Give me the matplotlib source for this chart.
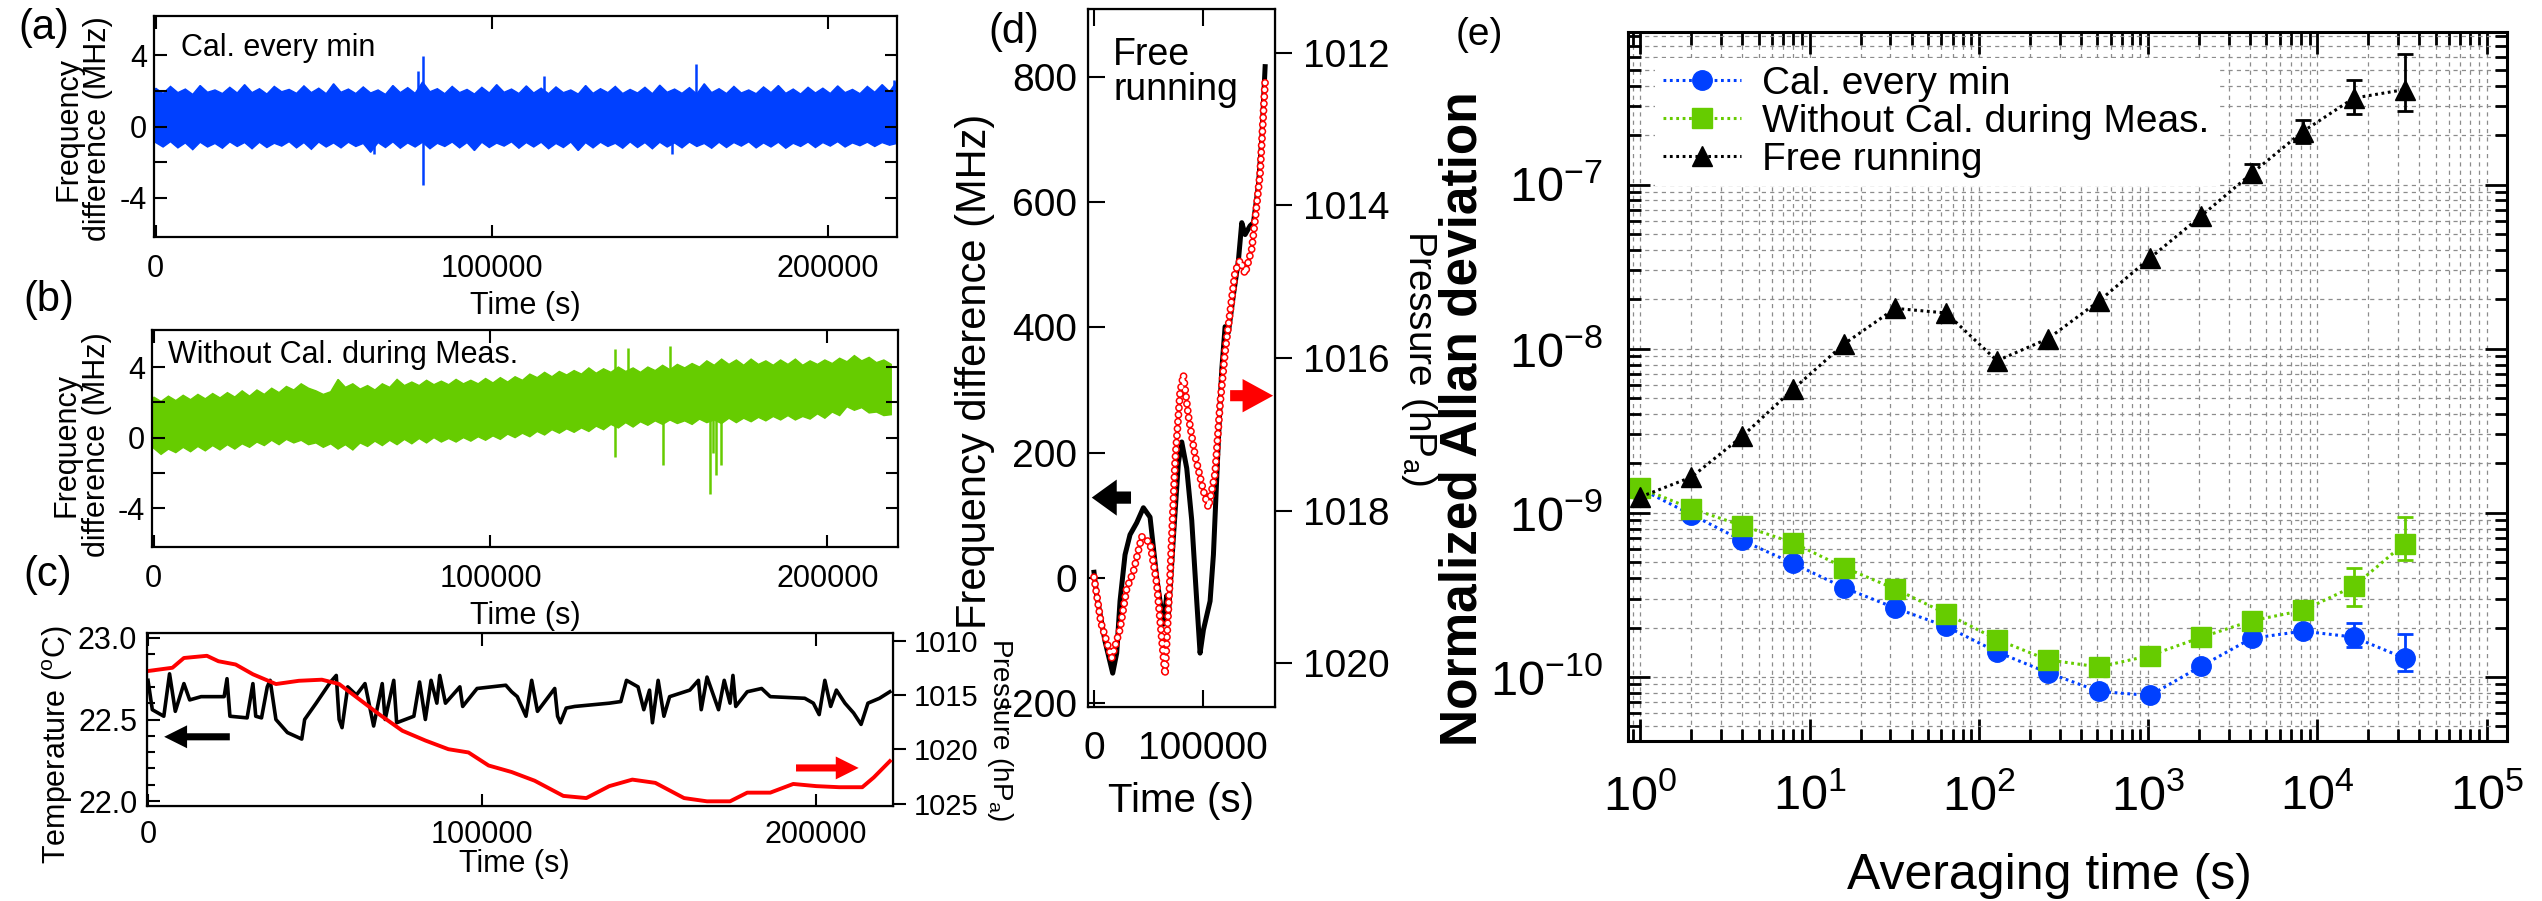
import numpy as np
import matplotlib
matplotlib.use('Agg')
import matplotlib.pyplot as plt
from matplotlib.ticker import FixedLocator, NullFormatter, LogLocator

plt.rcParams['font.family'] = ['Liberation Sans', 'DejaVu Sans']
plt.rcParams['mathtext.fontset'] = 'custom'
plt.rcParams['mathtext.rm'] = 'Liberation Sans'
plt.rcParams['mathtext.it'] = 'Liberation Sans:italic'
plt.rcParams['mathtext.bf'] = 'Liberation Sans:bold'
plt.rcParams['lines.scale_dashes'] = False
plt.rcParams['axes.unicode_minus'] = False

BLUE = '#0040ff'
GREEN = '#66cc00'
RED = '#ff0000'

# ---------------- data: panel (a) Cal. every min (band envelope) ----------------
a_upper = [2.15, 1.85, 2.25, 1.90, 2.10, 1.80, 2.30, 1.92, 2.05, 1.85,
           2.20, 1.88, 2.35, 1.90, 2.12, 1.82, 2.25, 1.95, 2.08, 1.86,
           2.28, 1.90, 2.15, 1.84, 2.40, 1.92, 2.10, 1.85, 2.22, 1.88,
           2.05, 1.80, 2.30, 1.90, 2.18, 1.86, 2.50, 1.95, 2.12, 1.84,
           2.25, 1.90, 2.08, 1.82, 2.20, 1.88, 2.35, 1.92, 2.10, 1.85,
           2.28, 1.88, 2.15, 1.84, 2.22, 1.90, 2.05, 1.82, 2.30, 1.86,
           2.12, 1.90, 2.25, 1.85, 2.08, 1.88, 2.20, 1.84, 2.32, 1.92,
           2.10, 1.86, 2.18, 1.82, 2.40, 1.90, 2.12, 1.85, 2.25, 1.88,
           2.05, 1.84, 2.22, 1.90, 2.30, 1.86, 2.10, 1.82, 2.20, 1.88,
           2.15, 1.85, 2.28, 1.90, 2.08, 1.84, 2.25, 1.92, 2.35, 1.95, 2.55]
a_lower = [-0.90, -1.15, -0.85, -1.20, -0.92, -1.30, -0.88, -1.15, -0.95, -1.22,
           -0.86, -1.12, -0.90, -1.25, -0.88, -1.18, -0.94, -1.10, -0.85, -1.20,
           -0.90, -1.28, -0.87, -1.15, -0.92, -1.20, -0.88, -1.12, -0.95, -1.45,
           -0.90, -1.18, -0.86, -1.22, -0.92, -1.15, -0.88, -1.25, -0.94, -1.12,
           -0.87, -1.20, -0.90, -1.35, -0.88, -1.18, -0.93, -1.10, -0.86, -1.22,
           -0.90, -1.15, -0.88, -1.25, -0.95, -1.18, -0.87, -1.35, -0.90, -1.20,
           -0.88, -1.12, -0.94, -1.22, -0.86, -1.18, -0.90, -1.25, -0.88, -1.15,
           -0.92, -1.20, -0.87, -1.12, -0.95, -1.22, -0.88, -1.18, -0.90, -1.10,
           -0.86, -1.20, -0.92, -1.15, -0.88, -1.22, -0.94, -1.12, -0.87, -1.18,
           -0.90, -1.10, -0.85, -1.15, -0.92, -1.08, -0.88, -1.12, -0.90, -1.05, -0.95]
a_spike_t = [77900, 79600, 79600, 115500, 160800, 153600, 65000, 219600]
a_spike_v = [3.13, 3.97, -3.26, 2.85, 3.50, -1.53, -1.53, 2.63]

# ---------------- data: panel (b) Without Cal. during Meas. ----------------
b_upper = [2.30, 2.05, 2.35, 2.10, 2.40, 2.15, 2.45, 2.20, 2.50, 2.25,
           2.55, 2.30, 2.65, 2.35, 2.70, 2.45, 2.80, 2.55, 2.90, 2.70,
           3.05, 2.80, 2.65, 2.45, 2.60, 3.30, 2.85, 3.05, 2.75, 2.95,
           2.70, 3.05, 2.85, 3.30, 2.95, 3.15, 2.95, 3.25, 3.00, 3.20,
           3.00, 3.30, 3.05, 3.25, 3.05, 3.35, 3.10, 3.40, 3.15, 3.45,
           3.25, 3.60, 3.40, 3.70, 3.45, 3.75, 3.55, 3.80, 3.60, 3.95,
           3.65, 3.90, 3.70, 4.00, 3.75, 3.95, 3.70, 4.00, 3.80, 4.10,
           3.85, 4.15, 3.95, 4.20, 4.00, 4.35, 4.10, 4.45, 4.15, 4.40,
           4.10, 4.45, 4.15, 4.35, 4.10, 4.40, 4.15, 4.45, 4.10, 4.35,
           4.15, 4.40, 4.20, 4.50, 4.30, 4.65, 4.35, 4.55, 4.25, 4.40, 4.15]
b_lower = [-0.60, -0.95, -0.65, -0.85, -0.55, -0.80, -0.50, -0.75, -0.45, -0.70,
           -0.40, -0.65, -0.35, -0.55, -0.25, -0.45, -0.15, -0.40, -0.10, -0.30,
           -0.15, -0.40, -0.30, -0.55, -0.35, -0.65, -0.40, -0.70, -0.30, -0.50,
           -0.20, -0.45, -0.15, -0.40, -0.10, -0.35, -0.05, -0.30, 0.00, -0.25,
           -0.05, -0.25, 0.00, -0.20, 0.05, -0.15, 0.10, -0.10, 0.20, 0.00,
           0.25, 0.05, 0.35, 0.15, 0.45, 0.25, 0.50, 0.30, 0.55, 0.35,
           0.65, 0.45, 0.75, 0.55, 0.85, 0.60, 0.90, 0.70, 0.95, 0.75,
           1.00, 0.80, 0.95, 0.75, 1.05, 0.85, 1.00, 0.80, 1.10, 0.85,
           1.10, 0.90, 1.15, 0.95, 1.20, 1.00, 1.25, 1.00, 1.20, 1.05,
           1.35, 1.10, 1.45, 1.25, 1.75, 1.55, 1.70, 1.40, 1.45, 1.25, 1.30]
b_spike_t = [136900, 136900, 140700, 151100, 153200, 165300, 166200, 167100, 168300]
b_spike_v = [5.00, -1.11, 5.09, -1.58, 5.22, -3.17, -0.90, -2.14, -1.58]

# ---------------- data: panel (c) temperature and pressure ----------------
c_temp_t = [0, 1290, 4730, 6450, 8170, 10750, 12480, 15900, 22790, 23650, 24520, 29670, 31400, 32250,
            33980, 35700, 36560, 38290, 41730, 46020, 46890, 50330, 54640, 56350, 57210, 58080, 59790,
            62370, 64950, 67540, 70110, 70980, 73560, 74430, 79580, 81290, 83020, 84730, 86460, 87330,
            89040, 93350, 94190, 98500, 107100, 108830, 110540, 113140, 114850, 116580, 121740, 122600,
            123450, 125180, 127750, 138080, 141530, 143230, 146680, 148410, 150120, 150990, 152700,
            154430, 156140, 162180, 164760, 165600, 167330, 170780, 172480, 174220, 175090, 175930,
            179370, 183680, 186260, 196590, 199160, 200900, 202600, 204340, 206050, 208620, 211200,
            213440, 215500, 218950, 222060]
c_temp_v = [22.74, 22.56, 22.52, 22.78, 22.55, 22.72, 22.62, 22.64, 22.64, 22.75, 22.52, 22.51, 22.72,
            22.52, 22.51, 22.70, 22.74, 22.50, 22.42, 22.38, 22.50, 22.60, 22.73, 22.77, 22.50, 22.45,
            22.70, 22.65, 22.72, 22.46, 22.72, 22.50, 22.74, 22.48, 22.52, 22.73, 22.50, 22.74, 22.60,
            22.77, 22.60, 22.70, 22.58, 22.69, 22.71, 22.67, 22.64, 22.52, 22.74, 22.55, 22.69, 22.52,
            22.48, 22.57, 22.58, 22.60, 22.61, 22.74, 22.70, 22.56, 22.68, 22.48, 22.74, 22.52, 22.64,
            22.68, 22.74, 22.56, 22.76, 22.56, 22.74, 22.60, 22.77, 22.58, 22.67, 22.69, 22.64, 22.63,
            22.60, 22.53, 22.74, 22.58, 22.68, 22.60, 22.54, 22.47, 22.60, 22.63, 22.67]
c_pres_t = [0, 7310, 10750, 17630, 21080, 26230, 31400, 38290, 45170, 52040, 57210, 62370, 69250, 76140,
            83020, 89910, 95930, 101950, 108830, 115720, 124310, 131200, 138080, 144970, 151860, 160450,
            167330, 174220, 179370, 186260, 193140, 200030, 206920, 213800, 217240, 222060]
c_pres_v = [1012.8, 1012.5, 1011.6, 1011.4, 1011.9, 1012.2, 1013.1, 1014.0, 1013.7, 1013.6, 1014.0,
            1015.2, 1016.8, 1018.3, 1019.2, 1020.0, 1020.3, 1021.5, 1022.1, 1022.9, 1024.3, 1024.5,
            1023.4, 1022.8, 1023.1, 1024.5, 1024.8, 1024.8, 1024.0, 1024.0, 1023.2, 1023.4, 1023.5,
            1023.5, 1022.6, 1021.1]

# ---------------- data: panel (d) free running ----------------
d_freq_t = [0, 2440, 10065, 17080, 20740, 23790, 28365, 32940, 39040, 45140, 51240, 57340, 63440, 66490,
            68010, 72590, 77160, 80210, 84790, 89360, 93940, 96990, 100040, 106140, 109190, 113760,
            116810, 119870, 122910, 127490, 132060, 135110, 138170, 142740, 145790, 150360, 153410, 156470]
d_freq_v = [9, -28, -101, -152, -120, -37, 37, 69, 88, 112, 97, 0, -74, -28, -60, 65, 184, 217, 175, 92,
            -37, -120, -83, -37, 37, 221, 332, 401, 392, 452, 507, 567, 548, 562, 567, 627, 701, 816]
d_pres_t = [0, 6400, 16160, 23790, 29890, 35990, 43620, 51240, 57340, 64970, 69540, 74120, 78690, 81740,
            86310, 92420, 100040, 104610, 110720, 115290, 119870, 124440, 129020, 133590, 138170, 144260,
            147320, 151890, 156470]
d_pres_v = [1018.87, 1019.47, 1019.93, 1019.55, 1019.02, 1018.80, 1018.34, 1018.42, 1018.95, 1020.15,
            1018.87, 1017.36, 1016.45, 1016.22, 1016.76, 1017.28, 1017.74, 1017.96, 1017.51, 1016.60,
            1015.92, 1015.40, 1014.87, 1014.72, 1014.90, 1014.57, 1014.19, 1013.58, 1012.38]

# ---------------- data: panel (e) Allan deviation ----------------
tau = [1, 2, 4, 8, 16, 32, 64, 128, 256, 512, 1024, 2048, 4096, 8192, 16384, 32768]
adev_cal = [1.40e-9, 9.75e-10, 6.78e-10, 4.91e-10, 3.49e-10, 2.63e-10, 2.03e-10, 1.42e-10, 1.06e-10,
            8.16e-11, 7.71e-11, 1.16e-10, 1.72e-10, 1.90e-10, 1.75e-10, 1.30e-10]
adev_nocal = [1.42e-9, 1.06e-9, 8.35e-10, 6.56e-10, 4.64e-10, 3.44e-10, 2.43e-10, 1.69e-10, 1.27e-10,
              1.15e-10, 1.35e-10, 1.74e-10, 2.20e-10, 2.54e-10, 3.56e-10, 6.50e-10]
adev_free = [1.25e-9, 1.65e-9, 2.93e-9, 5.68e-9, 1.07e-8, 1.76e-8, 1.65e-8, 8.44e-9, 1.15e-8, 1.95e-8,
             3.56e-8, 6.41e-8, 1.17e-7, 2.10e-7, 3.36e-7, 3.79e-7]
cal_err_idx = [14, 15]
cal_err_lo = [1.53e-10, 1.09e-10]
cal_err_hi = [2.13e-10, 1.82e-10]
nocal_err_idx = [14, 15]
nocal_err_lo = [2.70e-10, 5.15e-10]
nocal_err_hi = [4.58e-10, 9.46e-10]
free_err_idx = [12, 13, 14, 15]
free_err_lo = [1.04e-7, 1.79e-7, 2.68e-7, 2.81e-7]
free_err_hi = [1.33e-7, 2.47e-7, 4.36e-7, 6.27e-7]

# ---------------- figure ----------------
W, H = 2542, 901
fig = plt.figure(figsize=(W / 100, H / 100), dpi=100)


def add_ax(x0, y0, x1, y1):
    return fig.add_axes([x0 / W, 1 - y1 / H, (x1 - x0) / W, (y1 - y0) / H])


def arrow(ax, xh, xt, y, color, scale=30, hl=0.55, hw=0.55, tw=0.17):
    ax.annotate('', xy=(xh, y), xytext=(xt, y), xycoords='axes fraction',
                arrowprops=dict(arrowstyle='simple,head_length=%g,head_width=%g,tail_width=%g' % (hl, hw, tw),
                                mutation_scale=scale, color=color, shrinkA=0, shrinkB=0, lw=0))


def style_left(ax, fs=22):
    for s in ax.spines.values():
        s.set_linewidth(1.6)
    ax.tick_params(which='both', direction='in', top=True, right=True, length=9, width=1.5,
                   labelsize=fs)
    ax.tick_params(axis='x', pad=12)
    ax.tick_params(axis='y', pad=5)


# panel (a)
axa = add_ax(154, 16, 897, 237)
ta_up = np.linspace(0, 220500, len(a_upper))
ta_lo = np.linspace(0, 220500, len(a_lower))
axa.fill(np.r_[ta_up, ta_lo[::-1]], np.r_[a_upper, a_lower[::-1]], color=BLUE, lw=1.0)
axa.vlines(a_spike_t, 0.5, a_spike_v, color=BLUE, lw=1.8)
axa.set_xlim(-500, 220500)
axa.set_ylim(-6.2, 6.2)
axa.set_xticks([0, 100000, 200000])
axa.set_yticks([-4, 0, 4])
axa.set_yticks([-2, 2], minor=True)
style_left(axa)
axa.set_xlabel('Time (s)', fontsize=22, va='center')
axa.xaxis.set_label_coords(0.5, -0.312)
axa.set_ylabel('Frequency\ndifference (MHz)', fontsize=22, va='center', ha='center', linespacing=1.0)
axa.yaxis.set_label_coords(-0.095, 0.489)
axa.text(0.036, 0.923, 'Cal. every min', transform=axa.transAxes, fontsize=22, va='top', ha='left')

# panel (b)
axb = add_ax(152, 330, 898, 547)
tb_up = np.linspace(0, 219000, len(b_upper))
tb_lo = np.linspace(0, 219000, len(b_lower))
axb.fill(np.r_[tb_up, tb_lo[::-1]], np.r_[b_upper, b_lower[::-1]], color=GREEN, lw=1.0)
axb.vlines(b_spike_t, 2.5, b_spike_v, color=GREEN, lw=1.8)
axb.set_xlim(-500, 221000)
axb.set_ylim(-6.2, 6.1)
axb.set_xticks([0, 100000, 200000])
axb.set_yticks([-4, 0, 4])
axb.set_yticks([-2, 2], minor=True)
style_left(axb)
axb.set_xlabel('Time (s)', fontsize=22, va='center')
axb.xaxis.set_label_coords(0.501, -0.318)
axb.set_ylabel('Frequency\ndifference (MHz)', fontsize=22, va='center', ha='center', linespacing=1.0)
axb.yaxis.set_label_coords(-0.094, 0.472)
axb.text(0.021, 0.954, 'Without Cal. during Meas.', transform=axb.transAxes, fontsize=22,
         va='top', ha='left')

# panel (c)
axc = add_ax(147, 633, 893, 806)
axc.plot(c_temp_t, c_temp_v, color='black', lw=2.6)
axc.set_xlim(-300, 223000)
axc.set_ylim(21.97, 23.03)
axc.set_xticks([0, 100000, 200000])
axc.set_yticks([22.0, 22.5, 23.0])
axc.yaxis.set_major_formatter(matplotlib.ticker.FormatStrFormatter('%.1f'))
axc.yaxis.set_minor_locator(FixedLocator([22.1, 22.2, 22.3, 22.4, 22.6, 22.7, 22.8, 22.9]))
for s in axc.spines.values():
    s.set_linewidth(1.6)
axc.tick_params(which='both', direction='in', top=True, right=False, length=9, width=1.5, labelsize=22)
axc.tick_params(which='minor', length=6)
axc.tick_params(axis='x', pad=10)
axc.tick_params(axis='y', pad=7)
axc.set_xlabel('Time (s)', fontsize=22, va='center')
axc.xaxis.set_label_coords(0.492, -0.335)
axc.set_ylabel('Temperature ($^\\mathrm{o}$C)', fontsize=22, va='center', ha='center')
axc.yaxis.set_label_coords(-0.12, 0.353)
axc2 = axc.twinx()
axc2.plot(c_pres_t, c_pres_v, color=RED, lw=2.8)
axc2.set_ylim(1025.23, 1009.3)
axc2.set_yticks([1010, 1015, 1020, 1025])
axc2.tick_params(axis='y', direction='out', length=9, width=1.5, labelsize=21, pad=6)
axc2.set_ylabel('Pressure (hP$_\\mathrm{a}$)', fontsize=20, rotation=-90, va='center', ha='center')
axc2.yaxis.set_label_coords(1.143, 0.439)
arrow(axc, 0.023, 0.111, 0.40, 'black')
arrow(axc, 0.954, 0.87, 0.22, RED)

# panel (d)
axd = add_ax(1088, 9, 1275, 707)
axd.plot(d_freq_t, d_freq_v, color='black', lw=3.6)
axd.set_xlim(-5500, 165500)
axd.set_ylim(-206, 908)
axd.set_xticks([0, 100000])
axd.set_yticks([-200, 0, 200, 400, 600, 800])
for s in axd.spines.values():
    s.set_linewidth(1.6)
axd.tick_params(which='both', direction='in', top=True, right=False, length=12, width=1.5, labelsize=28)
axd.tick_params(axis='x', pad=17)
axd.tick_params(axis='y', pad=8)
axd.set_xlabel('Time (s)', fontsize=29, va='center')
axd.xaxis.set_label_coords(0.497, -0.135)
axd.set_ylabel('Frequency difference (MHz)', fontsize=30, va='center', ha='center')
axd.yaxis.set_label_coords(-0.604, 0.481)
axd.text(0.134, 0.96, 'Free\nrunning', transform=axd.transAxes, fontsize=27, va='top', ha='left',
         linespacing=0.95)
axd2 = axd.twinx()
axd2.plot(d_pres_t, d_pres_v, color=RED, lw=5.6, ls=(0, (0.01, 5.0)), dash_capstyle='round')
axd2.plot(d_pres_t, d_pres_v, color='white', lw=3.4, ls=(0, (0.01, 5.0)), dash_capstyle='round')
axd2.set_ylim(1020.57, 1011.43)
axd2.set_yticks([1012, 1014, 1016, 1018, 1020])
axd2.tick_params(axis='y', direction='out', length=12, width=1.5, labelsize=28, pad=8)
axd2.set_ylabel('Pressure (hP$_\\mathrm{a}$)', fontsize=28, rotation=-90, va='center', ha='center')
axd2.yaxis.set_label_coords(1.77, 0.5)
arrow(axd, 0.02, 0.23, 0.30, 'black', scale=40, hl=0.45, hw=0.65, tw=0.22)
arrow(axd, 0.99, 0.76, 0.446, RED, scale=40, hl=0.55, hw=0.6, tw=0.2)

# panel (e)
axe = add_ax(1628, 32, 2507, 741)
axe.set_xscale('log')
axe.set_yscale('log')
axe.set_xlim(0.844, 1.32e5)
axe.set_ylim(4.07e-11, 8.5e-7)
axe.grid(True, which='both', color='#8c8c8c', lw=0.9, ls=(0, (3, 3)))
axe.set_axisbelow(True)
dot = (0, (2.0, 2.6))
l1, = axe.plot(tau, adev_cal, color=BLUE, marker='o', ms=14, ls=dot, lw=2.2, label='Cal. every min')
axe.errorbar([tau[i] for i in cal_err_idx], [adev_cal[i] for i in cal_err_idx],
             yerr=[[adev_cal[i] - lo for i, lo in zip(cal_err_idx, cal_err_lo)],
                   [hi - adev_cal[i] for i, hi in zip(cal_err_idx, cal_err_hi)]],
             fmt='none', ecolor=BLUE, elinewidth=2, capsize=6, capthick=2)
l2, = axe.plot(tau, adev_nocal, color=GREEN, marker='s', ms=14, ls=dot, lw=2.2,
               label='Without Cal. during Meas.')
axe.errorbar([tau[i] for i in nocal_err_idx], [adev_nocal[i] for i in nocal_err_idx],
             yerr=[[adev_nocal[i] - lo for i, lo in zip(nocal_err_idx, nocal_err_lo)],
                   [hi - adev_nocal[i] for i, hi in zip(nocal_err_idx, nocal_err_hi)]],
             fmt='none', ecolor=GREEN, elinewidth=2, capsize=6, capthick=2)
l3, = axe.plot(tau, adev_free, color='black', marker='^', ms=15, ls=dot, lw=2.2, label='Free running')
axe.errorbar([tau[i] for i in free_err_idx], [adev_free[i] for i in free_err_idx],
             yerr=[[adev_free[i] - lo for i, lo in zip(free_err_idx, free_err_lo)],
                   [hi - adev_free[i] for i, hi in zip(free_err_idx, free_err_hi)]],
             fmt='none', ecolor='black', elinewidth=2, capsize=6, capthick=2)
axe.set_xticks([1, 10, 100, 1000, 10000, 100000])
axe.xaxis.set_minor_locator(LogLocator(base=10, subs=np.arange(2, 10), numticks=20))
axe.xaxis.set_minor_formatter(NullFormatter())
axe.set_yticks([1e-10, 1e-9, 1e-8, 1e-7])
axe.yaxis.set_minor_locator(LogLocator(base=10, subs=np.arange(2, 10), numticks=20))
axe.yaxis.set_minor_formatter(NullFormatter())
for s in axe.spines.values():
    s.set_linewidth(2.2)
axe.tick_params(which='both', direction='in', top=True, right=True, width=2, labelsize=35)
axe.tick_params(which='major', length=16)
axe.tick_params(which='minor', length=9)
axe.tick_params(axis='x', pad=24)
axe.tick_params(axis='y', pad=18)
axe.set_xlabel('Averaging time (s)', fontsize=36, va='center')
axe.xaxis.set_label_coords(0.48, -0.19)
axe.set_ylabel('Normalized Allan deviation', fontsize=37, fontweight='bold', va='center', ha='center')
axe.yaxis.set_label_coords(-0.188, 0.454)
leg = axe.legend(handles=[l1, l2, l3], loc='upper left', bbox_to_anchor=(0.031, 0.963),
                 borderaxespad=0, fontsize=28, frameon=True, framealpha=1, facecolor='white',
                 edgecolor='none', fancybox=False, borderpad=0.2, handlelength=2.0,
                 handletextpad=0.55, labelspacing=0.05)

# panel letters
fig.text(18 / W, 1 - 8 / H, '(a)', fontsize=30, va='top', ha='left')
fig.text(23 / W, 1 - 280 / H, '(b)', fontsize=30, va='top', ha='left')
fig.text(23 / W, 1 - 555 / H, '(c)', fontsize=30, va='top', ha='left')
fig.text(988 / W, 1 - 12 / H, '(d)', fontsize=30, va='top', ha='left')
fig.text(1456 / W, 1 - 17 / H, '(e)', fontsize=28, va='top', ha='left')

fig.savefig('out.png', dpi=100)
